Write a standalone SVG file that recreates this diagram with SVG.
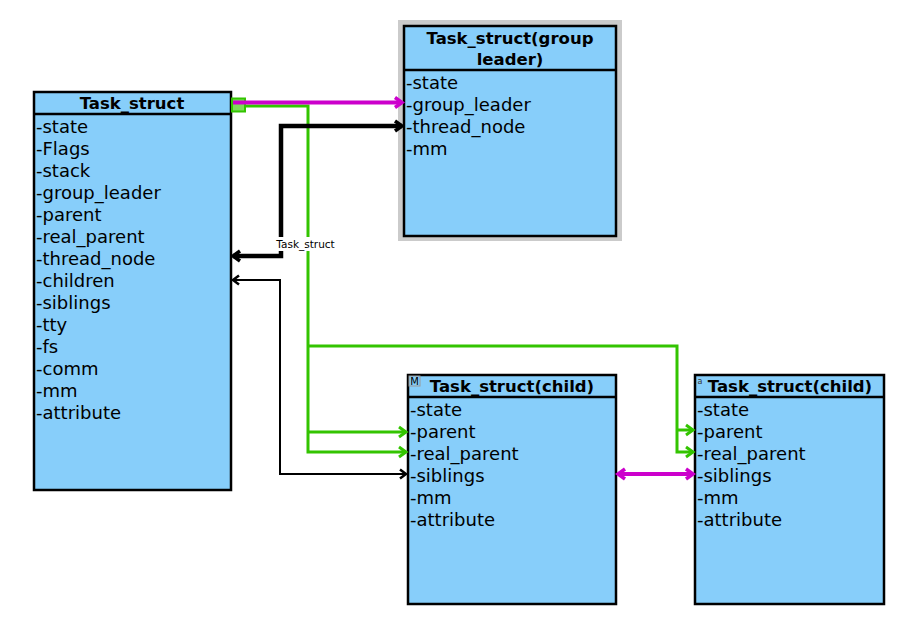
<svg xmlns="http://www.w3.org/2000/svg" width="924" height="619" viewBox="0 0 924 619">
<defs>
<style>
.box{fill:#87cefa;stroke:#000;stroke-width:2.5}
.t{font-family:"DejaVu Sans",sans-serif;font-size:18px;fill:#000}
.h{font-family:"DejaVu Sans",sans-serif;font-size:16.5px;font-weight:bold;fill:#000}
.g{fill:none;stroke:#33c400;stroke-width:3}
.m{fill:none;stroke:#cc00cc;stroke-width:4}
.k{fill:none;stroke:#000;stroke-width:4.5}
.kt{fill:none;stroke:#000;stroke-width:2}
</style>
<marker id="ag" markerUnits="userSpaceOnUse" markerWidth="14" markerHeight="14" refX="10" refY="6" orient="auto-start-reverse" viewBox="0 0 14 12"><path d="M3,1 L10,6 L3,11" fill="none" stroke="#33c400" stroke-width="3"/></marker>
<marker id="am" markerUnits="userSpaceOnUse" markerWidth="14" markerHeight="14" refX="10" refY="6" orient="auto-start-reverse" viewBox="0 0 14 12"><path d="M3,1 L10,6 L3,11" fill="none" stroke="#cc00cc" stroke-width="3.5"/></marker>
<marker id="ak" markerUnits="userSpaceOnUse" markerWidth="14" markerHeight="14" refX="10" refY="6" orient="auto-start-reverse" viewBox="0 0 14 12"><path d="M3,1 L10,6 L3,11" fill="none" stroke="#000" stroke-width="3.5"/></marker>
<marker id="akt" markerUnits="userSpaceOnUse" markerWidth="14" markerHeight="14" refX="10" refY="6" orient="auto-start-reverse" viewBox="0 0 14 12"><path d="M4,1.5 L10,6 L4,10.5" fill="none" stroke="#000" stroke-width="2.5"/></marker>
</defs>
<rect width="924" height="619" fill="#fff"/>

<g id="task_struct">
<rect class="box" x="34" y="92" width="197" height="398"/>
<line x1="34" y1="114" x2="231" y2="114" stroke="#000" stroke-width="2.5"/>
<text class="h" x="132" y="109" text-anchor="middle">Task_struct</text>
<text class="t" x="36" y="133">-state</text>
<text class="t" x="36" y="155">-Flags</text>
<text class="t" x="36" y="177">-stack</text>
<text class="t" x="36" y="199">-group_leader</text>
<text class="t" x="36" y="221">-parent</text>
<text class="t" x="36" y="243">-real_parent</text>
<text class="t" x="36" y="265">-thread_node</text>
<text class="t" x="36" y="287">-children</text>
<text class="t" x="36" y="309">-siblings</text>
<text class="t" x="36" y="331">-tty</text>
<text class="t" x="36" y="353">-fs</text>
<text class="t" x="36" y="375">-comm</text>
<text class="t" x="36" y="397">-mm</text>
<text class="t" x="36" y="419">-attribute</text>
</g>

<g id="group_leader">
<rect x="398" y="20" width="224" height="221" fill="#cbcbcb"/>
<rect class="box" x="404" y="26" width="212" height="210"/>
<line x1="404" y1="70" x2="616" y2="70" stroke="#000" stroke-width="2.5"/>
<text class="h" x="510" y="44" text-anchor="middle">Task_struct(group</text>
<text class="h" x="510" y="65" text-anchor="middle">leader)</text>
<text class="t" x="406" y="89">-state</text>
<text class="t" x="406" y="111">-group_leader</text>
<text class="t" x="406" y="133">-thread_node</text>
<text class="t" x="406" y="155">-mm</text>
</g>

<g id="child1">
<rect class="box" x="408" y="375" width="208" height="229"/>
<line x1="408" y1="397" x2="616" y2="397" stroke="#000" stroke-width="2.5"/>
<rect x="409" y="376" width="11" height="10" fill="#87cefa" stroke="#999" stroke-width="1"/>
<text x="414.5" y="385" text-anchor="middle" font-family="DejaVu Sans, sans-serif" font-size="10" fill="#000">M</text>
<text class="h" x="512" y="392" text-anchor="middle">Task_struct(child)</text>
<text class="t" x="410" y="416">-state</text>
<text class="t" x="410" y="438">-parent</text>
<text class="t" x="410" y="460">-real_parent</text>
<text class="t" x="410" y="482">-siblings</text>
<text class="t" x="410" y="504">-mm</text>
<text class="t" x="410" y="526">-attribute</text>
</g>

<g id="child2">
<rect class="box" x="695" y="375" width="189" height="229"/>
<line x1="695" y1="397" x2="884" y2="397" stroke="#000" stroke-width="2.5"/>
<text x="700" y="384" text-anchor="middle" font-family="DejaVu Sans, sans-serif" font-size="8" fill="#333">a</text>
<text class="h" x="790" y="392" text-anchor="middle">Task_struct(child)</text>
<text class="t" x="697" y="416">-state</text>
<text class="t" x="697" y="438">-parent</text>
<text class="t" x="697" y="460">-real_parent</text>
<text class="t" x="697" y="482">-siblings</text>
<text class="t" x="697" y="504">-mm</text>
<text class="t" x="697" y="526">-attribute</text>
</g>

<g id="connectors">
<path class="g" d="M245,106 H308 V452 H406" marker-end="url(#ag)"/>
<path class="g" d="M308,432 H406" marker-end="url(#ag)"/>
<path class="g" d="M308,346 H677 V452 H693" marker-end="url(#ag)"/>
<path class="g" d="M677,430 H693" marker-end="url(#ag)"/>
<path class="kt" d="M233,280 H280 V474 H406" marker-start="url(#akt)" marker-end="url(#akt)"/>
<path class="k" d="M233,256 H281 V126 H402" marker-start="url(#ak)" marker-end="url(#ak)"/>
<path class="m" d="M618,474 H693" stroke-width="3" marker-start="url(#am)" marker-end="url(#am)"/>
<rect x="232" y="98.5" width="13" height="13" fill="#7ddc5a" stroke="#33c400" stroke-width="2"/>
<path class="m" d="M233,102.5 H402" marker-end="url(#am)"/>
<rect x="274" y="237" width="63" height="14" fill="#fff"/>
<text x="305.5" y="248" text-anchor="middle" font-family="DejaVu Sans, sans-serif" font-size="10.5" fill="#000">Task_struct</text>
</g>
</svg>
